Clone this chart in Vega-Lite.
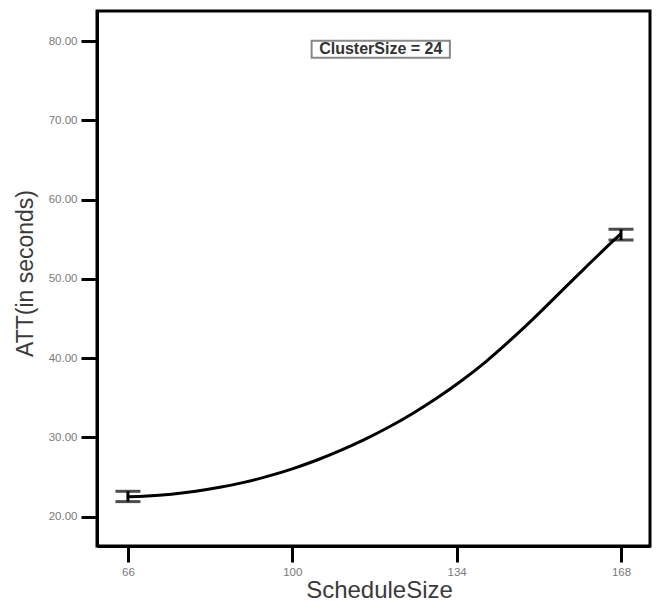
{
  "$schema": "https://vega.github.io/schema/vega-lite/v6.json",
  "width": 553,
  "height": 535,
  "autosize": "none",
  "padding": {"left": 97, "top": 11, "right": 9, "bottom": 56},
  "background": "white",
  "config": {
    "view": {"stroke": "black", "strokeWidth": 3},
    "axis": {
      "grid": false,
      "domainColor": "black",
      "domainWidth": 3,
      "tickColor": "black",
      "tickWidth": 3,
      "tickSize": 16,
      "labelFont": "Liberation Sans",
      "labelFontSize": 11.5,
      "labelColor": "#7a7a7a",
      "labelPadding": 4,
      "titleFont": "Liberation Sans",
      "titleFontWeight": "normal",
      "titleColor": "#3a3a3a"
    }
  },
  "datasets": {
    "curve": [
      {"ScheduleSize": 66, "ATT": 22.5},
      {"ScheduleSize": 70, "ATT": 22.6},
      {"ScheduleSize": 75, "ATT": 22.84},
      {"ScheduleSize": 80, "ATT": 23.2},
      {"ScheduleSize": 85, "ATT": 23.7},
      {"ScheduleSize": 90, "ATT": 24.33},
      {"ScheduleSize": 95, "ATT": 25.11},
      {"ScheduleSize": 100, "ATT": 26.04},
      {"ScheduleSize": 105, "ATT": 27.12},
      {"ScheduleSize": 110, "ATT": 28.36},
      {"ScheduleSize": 115, "ATT": 29.75},
      {"ScheduleSize": 120, "ATT": 31.31},
      {"ScheduleSize": 125, "ATT": 33.05},
      {"ScheduleSize": 130, "ATT": 34.99},
      {"ScheduleSize": 135, "ATT": 37.14},
      {"ScheduleSize": 140, "ATT": 39.53},
      {"ScheduleSize": 145, "ATT": 42.2},
      {"ScheduleSize": 150, "ATT": 45.05},
      {"ScheduleSize": 155, "ATT": 48.05},
      {"ScheduleSize": 160, "ATT": 51.05},
      {"ScheduleSize": 165, "ATT": 54.0},
      {"ScheduleSize": 168, "ATT": 55.7}
    ],
    "bars": [
      {"ScheduleSize": 66, "lo": 21.9, "hi": 23.2},
      {"ScheduleSize": 168, "lo": 54.9, "hi": 56.25}
    ],
    "note": [
      {"label": "ClusterSize = 24", "x": 118.3, "y": 79.0, "xa": 104.0, "xb": 132.6, "ya": 77.9, "yb": 80.05}
    ]
  },
  "layer": [
    {
      "data": {"name": "curve"},
      "mark": {"type": "line", "color": "black", "strokeWidth": 3, "interpolate": "natural"},
      "encoding": {
        "x": {
          "field": "ScheduleSize", "type": "quantitative",
          "scale": {"domain": [59.6, 174], "nice": false, "zero": false},
          "axis": {"values": [66, 100, 134, 168], "format": "d", "title": "ScheduleSize", "titleFontSize": 24, "titlePadding": 1, "titleX": 282}
        },
        "y": {
          "field": "ATT", "type": "quantitative",
          "scale": {"domain": [16.3, 83.8], "nice": false, "zero": false},
          "axis": {"values": [20, 30, 40, 50, 60, 70, 80], "format": ".2f", "title": "ATT(in seconds)", "titleFontSize": 23, "titlePadding": 11, "titleY": 262}
        }
      }
    },
    {
      "data": {"name": "bars"},
      "mark": {"type": "rule", "color": "black", "strokeWidth": 3},
      "encoding": {
        "x": {"field": "ScheduleSize", "type": "quantitative"},
        "y": {"field": "lo", "type": "quantitative"},
        "y2": {"field": "hi"}
      }
    },
    {
      "data": {"name": "bars"},
      "mark": {"type": "tick", "color": "black", "thickness": 3, "size": 25, "orient": "horizontal"},
      "encoding": {
        "x": {"field": "ScheduleSize", "type": "quantitative"},
        "y": {"field": "lo", "type": "quantitative"}
      }
    },
    {
      "data": {"name": "bars"},
      "mark": {"type": "tick", "color": "black", "thickness": 3, "size": 25, "orient": "horizontal"},
      "encoding": {
        "x": {"field": "ScheduleSize", "type": "quantitative"},
        "y": {"field": "hi", "type": "quantitative"}
      }
    },
    {
      "data": {"name": "note"},
      "mark": {"type": "rect", "fill": "white", "stroke": "#888888", "strokeWidth": 2},
      "encoding": {
        "x": {"field": "xa", "type": "quantitative"},
        "x2": {"field": "xb"},
        "y": {"field": "ya", "type": "quantitative"},
        "y2": {"field": "yb"}
      }
    },
    {
      "data": {"name": "note"},
      "mark": {"type": "text", "font": "Liberation Sans", "fontSize": 16, "fontWeight": "bold", "color": "#333333", "align": "center", "baseline": "middle"},
      "encoding": {
        "x": {"field": "x", "type": "quantitative"},
        "y": {"field": "y", "type": "quantitative"},
        "text": {"field": "label"}
      }
    }
  ]
}
